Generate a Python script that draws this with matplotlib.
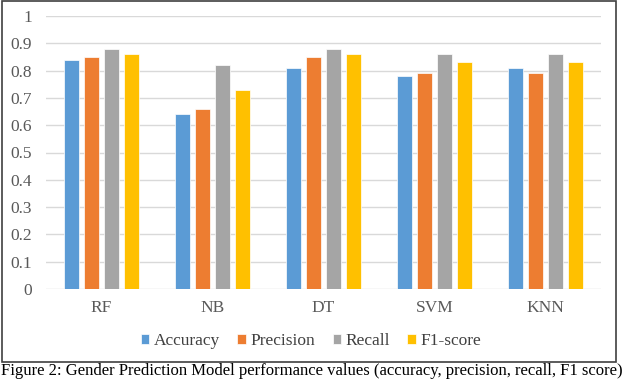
import matplotlib.pyplot as plt
import numpy as np
from matplotlib.patches import Rectangle

# model performance values
models = ["RF", "NB", "DT", "SVM", "KNN"]
accuracy = [0.84, 0.64, 0.81, 0.78, 0.81]
precision = [0.85, 0.66, 0.85, 0.79, 0.79]
recall = [0.88, 0.82, 0.88, 0.86, 0.86]
f1 = [0.86, 0.73, 0.86, 0.83, 0.83]

series = [("Accuracy", accuracy, "#5B9BD5"),
          ("Precision", precision, "#ED7D31"),
          ("Recall", recall, "#A5A5A5"),
          ("F1-score", f1, "#FFC000")]

plt.rcParams["font.family"] = ["Liberation Serif", "DejaVu Serif"]

fig = plt.figure(figsize=(6.4, 3.79), dpi=100)
W, H = 640, 379
ax = fig.add_axes([46 / W, 1 - 289 / H, 555 / W, 273 / H])

x = np.arange(len(models))
step = 0.18
bw = 0.14
for i, (name, vals, col) in enumerate(series):
    ax.bar(x + (i - 1.5) * step, vals, bw, color=col, edgecolor="white",
           linewidth=0.5, label=name, zorder=3)

ax.set_xlim(-0.5, len(models) - 0.5)
ax.set_ylim(0, 1)
ax.set_yticks(np.arange(0, 1.01, 0.1))
ax.set_yticklabels(["0", "0.1", "0.2", "0.3", "0.4", "0.5", "0.6", "0.7", "0.8", "0.9", "1"])
ax.set_xticks(x)
ax.set_xticklabels(models)
ax.tick_params(length=0, labelsize=12.5, colors="#595959")
ax.tick_params(axis="x", pad=8)
ax.tick_params(axis="y", pad=10)
ax.grid(axis="y", color="#D9D9D9", linewidth=1, zorder=0)
for s in ax.spines.values():
    s.set_visible(False)

fig.legend(loc="center", bbox_to_anchor=(311 / W, 1 - 341 / H), ncol=4,
           frameon=False, fontsize=12.5, handlelength=0.5, handleheight=0.5,
           handletextpad=0.25, columnspacing=1.0)
for t in fig.legends[0].get_texts():
    t.set_color("#404040")

# chart frame
fig.patches.append(Rectangle((2 / W, 1 - 362 / H), 614 / W, 361 / H,
                             transform=fig.transFigure, fill=False,
                             edgecolor="#404040", linewidth=1.2))

fig.text(1 / W, 1 - 363 / H,
         "Figure 2: Gender Prediction Model performance values (accuracy, precision, recall, F1 score)",
         ha="left", va="top", fontsize=12, color="black")

fig.savefig("out.png", dpi=100)
